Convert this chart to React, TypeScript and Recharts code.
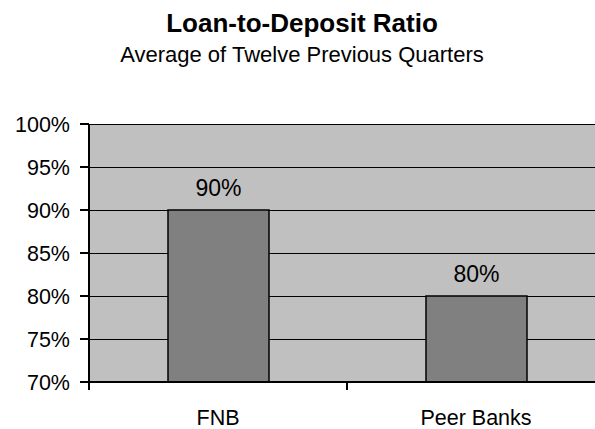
import React from 'react';
import { BarChart, Bar, CartesianGrid, XAxis, YAxis, LabelList } from 'recharts';

const banks = ['FNB', 'Peer Banks'];
const ratios = [90, 80];
const yTicks = [70, 75, 80, 85, 90, 95, 100];

const data = banks.map((name, i) => ({ name, ratio: ratios[i] }));

const FONT = '"Liberation Sans", Arial, sans-serif';

const CategoryTick = (props: any) => {
    const { x, y, payload, index, visibleTicksCount } = props;
    const half = payload?.offset ?? 0;
    const isLast = index === visibleTicksCount - 1;
    return (
        <g>
            <line x1={x - half} y1={y} x2={x - half} y2={y + 8} stroke="#000" strokeWidth={2} />
            {isLast && <line x1={x + half} y1={y} x2={x + half} y2={y + 8} stroke="#000" strokeWidth={2} />}
            <text x={x} y={y + 43} textAnchor="middle" fontSize={21.5} fill="#000" fontFamily={FONT}>
                {payload.value}
            </text>
        </g>
    );
};

export default function App() {
    return (
        <div style={{ position: 'fixed', left: 0, top: 0, width: 595, height: 429, overflow: 'hidden', background: '#fff', fontFamily: FONT }}>
            <svg width={595} height={70} style={{ position: 'absolute', left: 0, top: 0 }}>
                <text x={302} y={31.7} textAnchor="middle" fontSize={26} fontWeight="bold" fill="#000" fontFamily={FONT}>
                    Loan-to-Deposit Ratio
                </text>
                <text x={302} y={61.5} textAnchor="middle" fontSize={22} fill="#000" fontFamily={FONT}>
                    Average of Twelve Previous Quarters
                </text>
            </svg>
            <div style={{ position: 'absolute', left: 0, top: 0 }}>
                <BarChart
                    width={610}
                    height={429}
                    data={data}
                    margin={{ top: 124, right: 5, left: 0, bottom: 0 }}
                    barSize={101}
                >
                    <CartesianGrid
                        vertical={false}
                        stroke="#000"
                        strokeWidth={1}
                        shapeRendering="crispEdges"
                        fill="#C0C0C0"
                        fillOpacity={1}
                    />
                    <XAxis
                        dataKey="name"
                        height={47}
                        axisLine={{ stroke: '#000', strokeWidth: 2 }}
                        tickLine={false}
                        tickSize={0}
                        tickMargin={0}
                        interval={0}
                        tick={<CategoryTick />}
                    />
                    <YAxis
                        width={89}
                        domain={[70, 100]}
                        ticks={yTicks}
                        interval={0}
                        allowDataOverflow
                        axisLine={{ stroke: '#000', strokeWidth: 2 }}
                        tickLine={{ stroke: '#000', strokeWidth: 2 }}
                        tickSize={9}
                        tickMargin={10}
                        tickFormatter={(v: number) => `${v}%`}
                        tick={{ fontSize: 21.5, fill: '#000', fontFamily: FONT }}
                    />
                    <Bar dataKey="ratio" fill="#808080" stroke="#000" strokeWidth={1.5} isAnimationActive={false}>
                        <LabelList
                            dataKey="ratio"
                            position="top"
                            offset={14}
                            formatter={(v: any) => `${v}%`}
                            fontSize={23}
                            fill="#000"
                            fontFamily={FONT}
                        />
                    </Bar>
                </BarChart>
            </div>
        </div>
    );
}
